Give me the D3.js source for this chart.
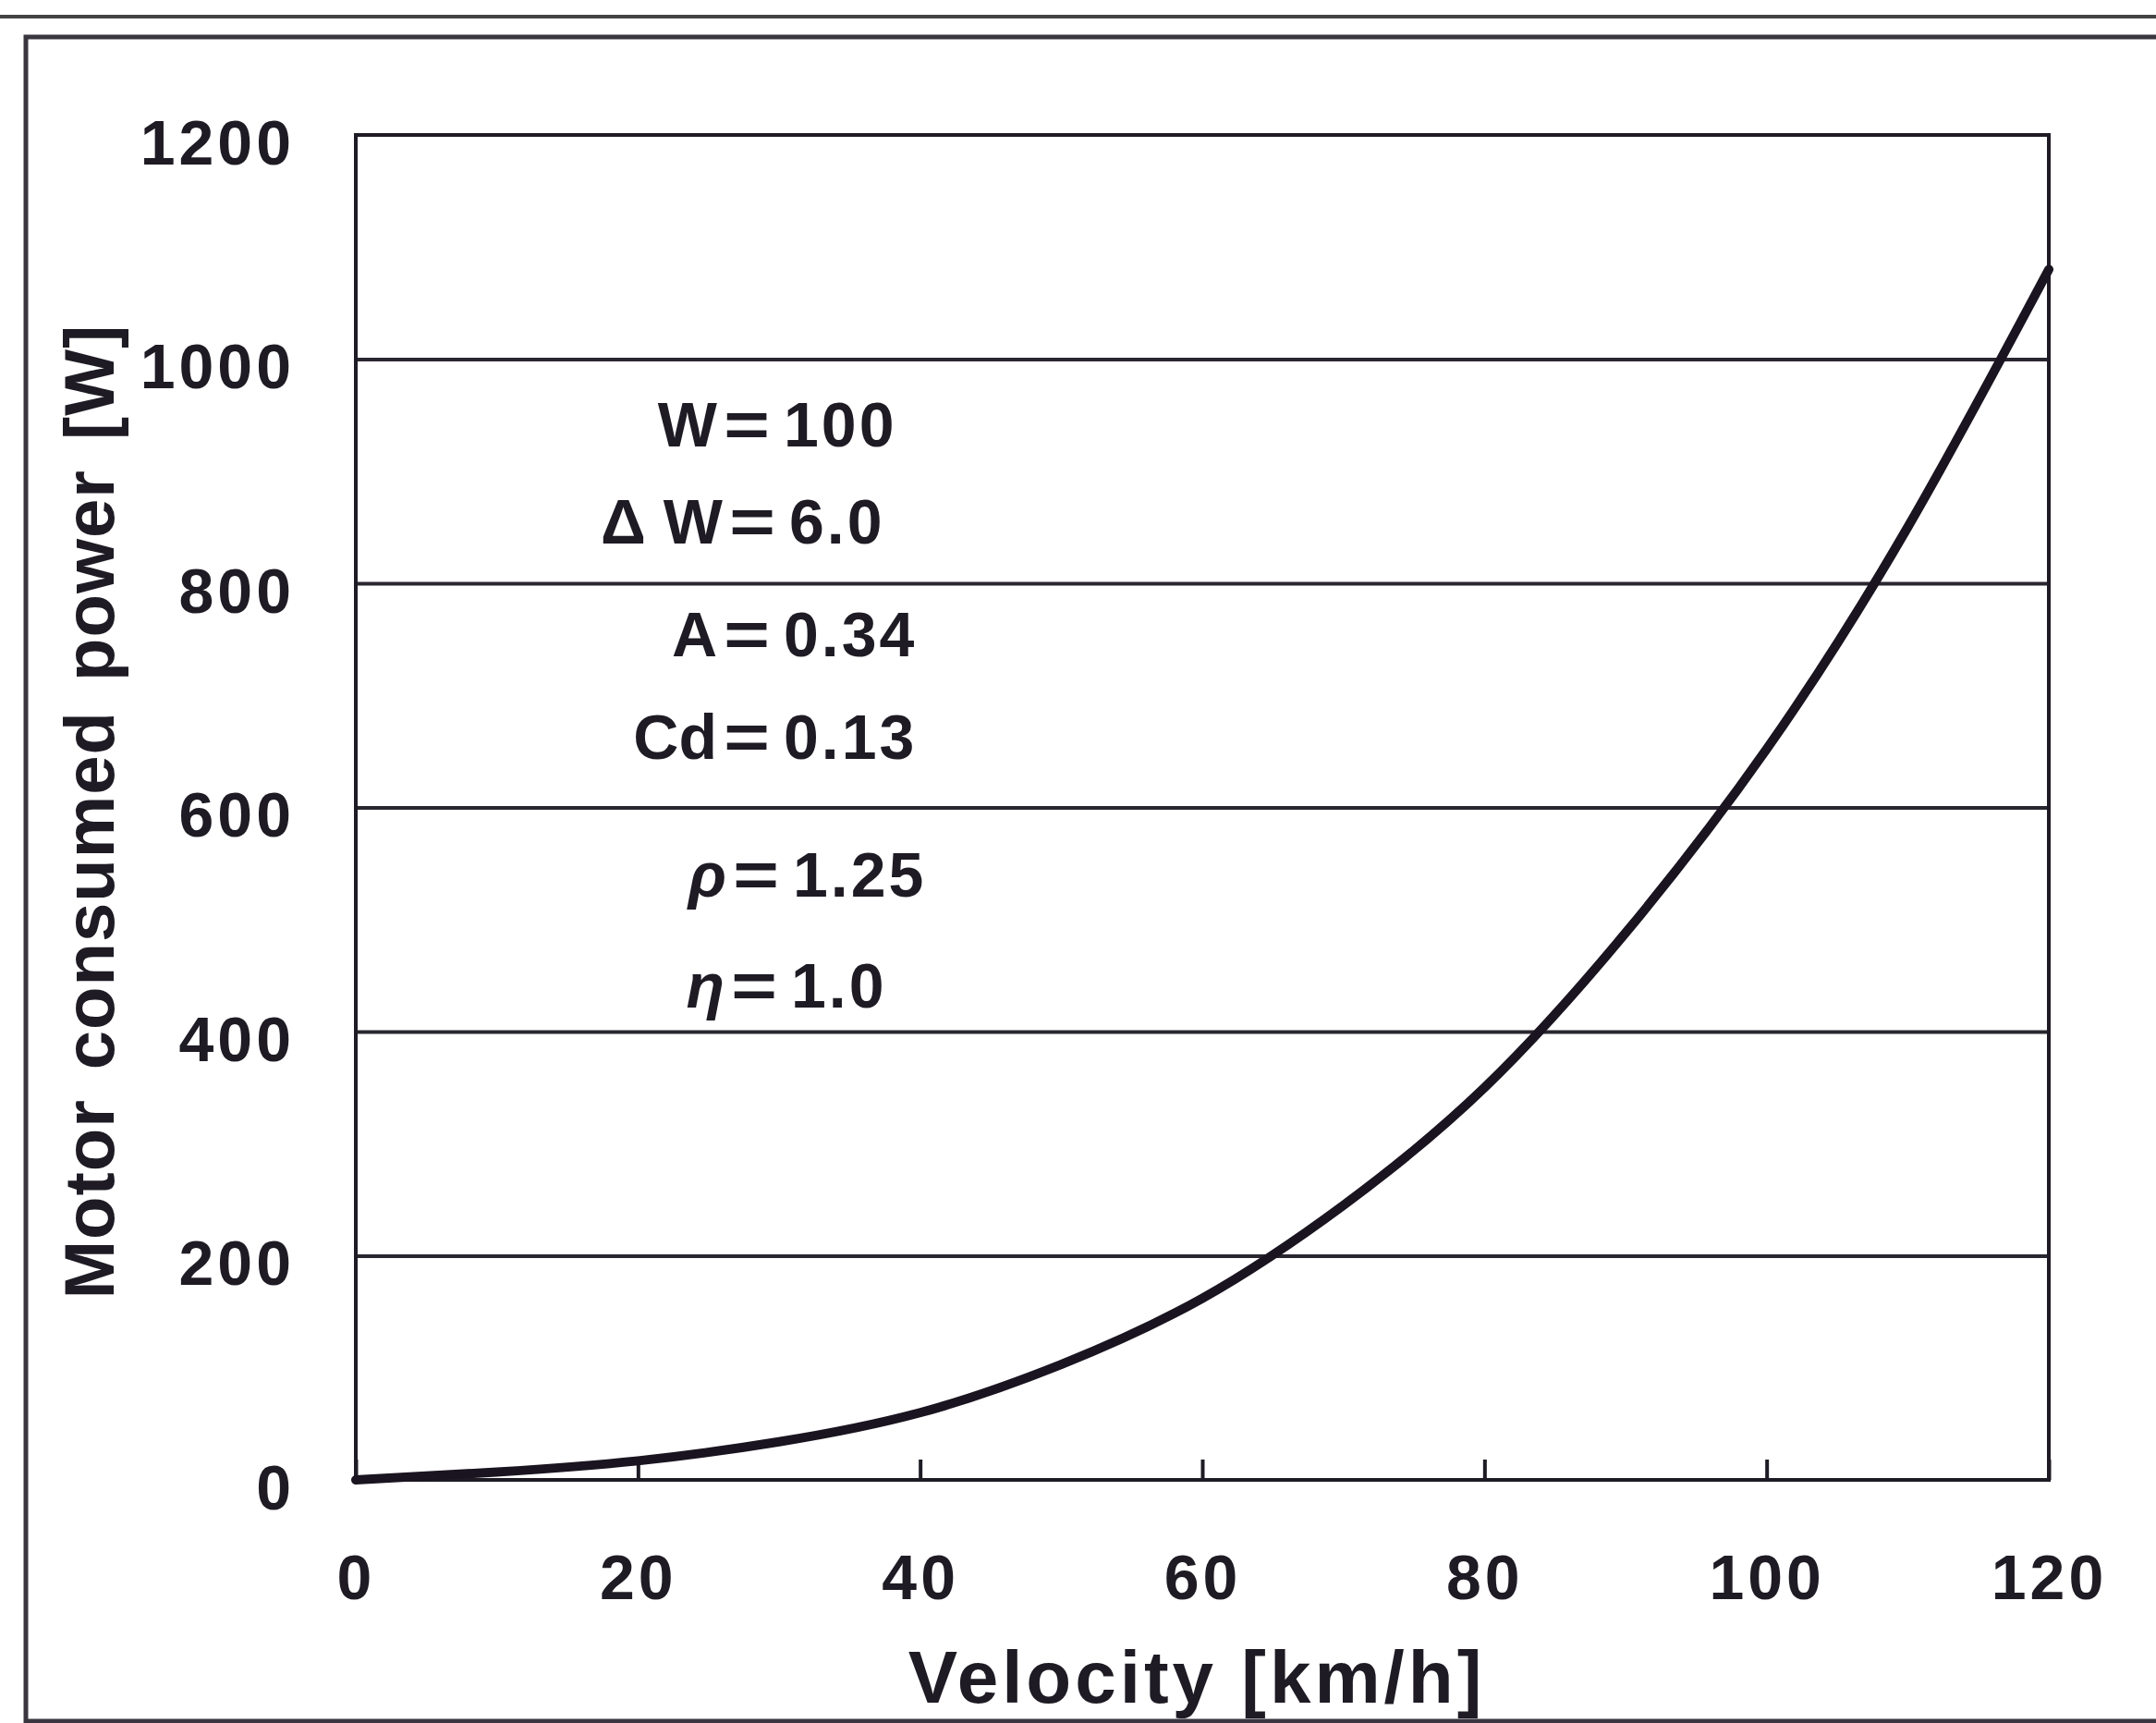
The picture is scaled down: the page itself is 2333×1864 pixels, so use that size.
<!DOCTYPE html>
<html>
<head>
<meta charset="utf-8">
<script src="https://cdn.jsdelivr.net/npm/d3@7"></script>
<style>
  body { margin: 0; background: #fff; }
  svg { display: block; }
  text { font-family: "Liberation Sans", Arial, sans-serif; fill: #1e1b24; font-weight: bold; }
</style>
</head>
<body>
<div class="canvas"></div>
<script>
// data
const velocity = [0, 10, 20, 30, 40, 50, 60, 70, 80, 90, 100, 110, 120];
const power = [0, 7, 17, 34, 60, 103, 162, 245, 350, 488, 652, 850, 1080];
const xTicks = [0, 20, 40, 60, 80, 100, 120];
const yTicks = [0, 200, 400, 600, 800, 1000, 1200];
const paramNames = ['W', '\u0394 W', 'A', 'Cd', '\u03c1 ', '\u03b7 '];
const paramValues = ['100', '6.0', '0.34', '0.13', '1.25', '1.0'];

const width = 2333;
const height = 1864;
const margin = { top: 146, right: 116, bottom: 263, left: 385 };
const graphWidth = width - margin.left - margin.right;
const graphHeight = height - margin.top - margin.bottom;
const ink = '#1e1b24';

const svg = d3.select('.canvas')
    .append('svg')
    .attr('width', width)
    .attr('height', height)

// outer scanned frame
svg.append('line')
    .attr('x1', 0).attr('x2', width)
    .attr('y1', 18).attr('y2', 18)
    .attr('stroke', '#444').attr('stroke-width', 4)
svg.append('rect')
    .attr('x', 28).attr('y', 40)
    .attr('width', width + 20).attr('height', 1822)
    .attr('fill', 'none')
    .attr('stroke', '#3a3640').attr('stroke-width', 5)

const graph = svg.append('g')
    .attr('transform', `translate(${margin.left}, ${margin.top})`)

// scales
const x = d3.scaleLinear().domain([0, 120]).range([0, graphWidth]);
const y = d3.scaleLinear().domain([0, 1200]).range([graphHeight, 0]);

// gridlines
graph.append('g')
    .attr('class', 'grid')
    .call(d3.axisLeft(y).tickValues(yTicks.slice(1, -1)).tickSize(-graphWidth).tickFormat(''))
    .call(g => g.select('.domain').remove())
    .selectAll('line')
    .attr('stroke', '#2a2630')
    .attr('stroke-width', 4)

// x axis with small inward ticks
const xAxisGroup = graph.append('g')
    .attr('transform', `translate(0, ${graphHeight})`)
    .call(d3.axisBottom(x).tickValues(xTicks).tickSize(-22).tickPadding(81).tickFormat(d3.format('d')))
xAxisGroup.select('.domain').remove()
xAxisGroup.selectAll('line').attr('stroke', ink).attr('stroke-width', 4)
xAxisGroup.selectAll('text')
    .attr('font-size', 68)
    .attr('letter-spacing', 4)
    .attr('fill', ink)

// y axis labels
const yAxisGroup = graph.append('g')
    .call(d3.axisLeft(y).tickValues(yTicks).tickSize(0).tickPadding(66).tickFormat(d3.format('d')))
yAxisGroup.select('.domain').remove()
yAxisGroup.selectAll('text')
    .attr('font-size', 68)
    .attr('letter-spacing', 4)
    .attr('dy', '0.46em')
    .attr('fill', ink)

// plot frame
graph.append('rect')
    .attr('width', graphWidth)
    .attr('height', graphHeight)
    .attr('fill', 'none')
    .attr('stroke', ink)
    .attr('stroke-width', 4)

// power curve
const line = d3.line()
    .x((d, i) => x(velocity[i]))
    .y(d => y(d))
    .curve(d3.curveNatural);
graph.append('path')
    .datum(power)
    .attr('fill', 'none')
    .attr('stroke', '#1a1420')
    .attr('stroke-width', 10)
    .attr('stroke-linecap', 'round')
    .attr('d', line)

// parameter notes
const noteY = [483, 588, 710, 821, 970, 1090];
const eqX = [808, 814, 808, 808, 818, 816];
const notes = svg.append('g').attr('font-size', 68)
paramNames.forEach((name, i) => {
    notes.append('text')
        .attr('x', eqX[i] - 32).attr('y', noteY[i])
        .attr('text-anchor', 'end')
        .attr('font-style', i > 3 ? 'italic' : 'normal')
        .text(name)
    notes.append('text')
        .attr('x', eqX[i]).attr('y', noteY[i])
        .attr('text-anchor', 'middle')
        .attr('transform', `translate(${eqX[i]}, 0) scale(1.25, 1) translate(${-eqX[i]}, 0)`)
        .text('=')
    notes.append('text')
        .attr('x', eqX[i] + 40).attr('y', noteY[i])
        .attr('letter-spacing', 3)
        .text(paramValues[i])
})

// axis titles
svg.append('text')
    .attr('x', margin.left + graphWidth / 2 - 6)
    .attr('y', 1842)
    .attr('text-anchor', 'middle')
    .attr('font-size', 80)
    .attr('letter-spacing', 4)
    .text('Velocity [km/h]')

svg.append('text')
    .attr('transform', 'translate(123, 878) rotate(-90)')
    .attr('text-anchor', 'middle')
    .attr('font-size', 76)
    .attr('letter-spacing', 1)
    .attr('word-spacing', 10)
    .text('Motor consumed power [W]')
</script>
</body>
</html>
